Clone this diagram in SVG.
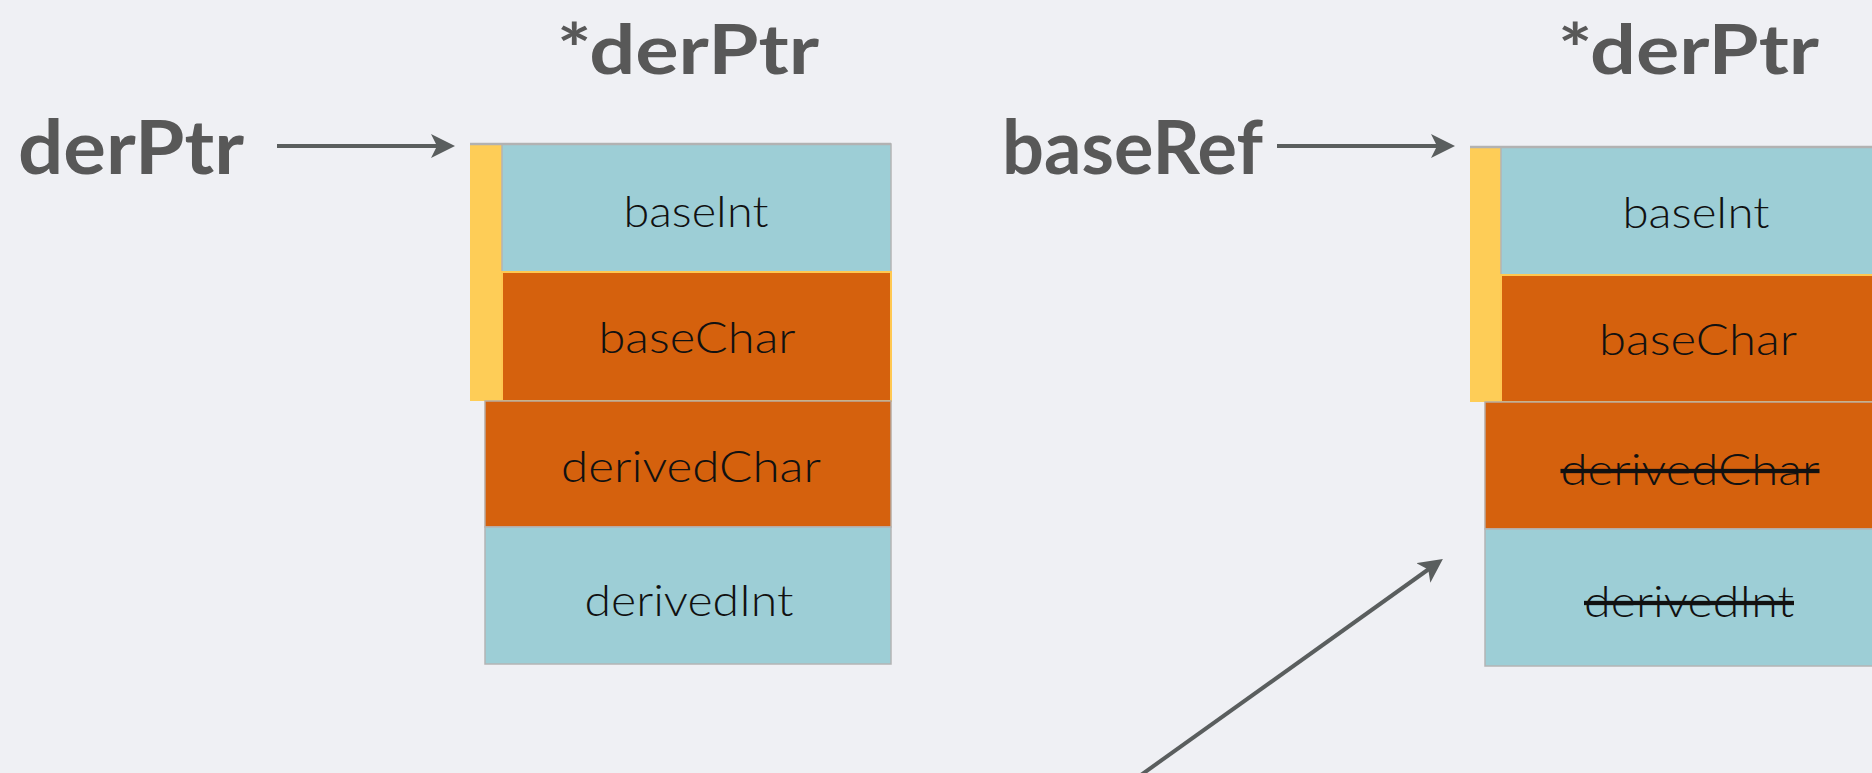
<svg xmlns="http://www.w3.org/2000/svg" width="1872" height="773" viewBox="0 0 1872 773">
<style>
.bg{fill:#eff0f4}
.lbl{font-family:Lato,"Liberation Sans",sans-serif;font-weight:700;fill:#585858}
.big{font-size:75px}
.ttl{font-size:68px}
.cell{font-family:Lato,"Liberation Sans",sans-serif;font-weight:300;font-size:43px;fill:#111;text-anchor:middle}
.strike{text-decoration:line-through}
.blue{fill:#9dced6;stroke:#b4b4b4;stroke-width:1.5}
.orU{fill:#d5610d;stroke:#ffc851;stroke-width:2}
.orL{fill:#d5610d;stroke:#b8aaa0;stroke-width:1.5}
.yel{fill:#fecd57}
.top{stroke:#b2b2b2;stroke-width:2.5}
.conn{stroke:#5a5e5e;stroke-width:4;fill:none}
</style>
<defs>
<marker id="ah" viewBox="0 0 24 24" refX="18" refY="12" markerWidth="24" markerHeight="24" markerUnits="userSpaceOnUse" orient="auto">
<path d="M0,0 L24,12 L0,24 L6,12 Z" fill="#5a5e5e"/>
</marker>
</defs>
<rect class="bg" x="0" y="0" width="1872" height="773"/>

<g id="label-derPtr"><text class="lbl big" x="18" y="174" textLength="226" lengthAdjust="spacingAndGlyphs">derPtr</text></g>
<g id="title-left"><text class="lbl ttl" x="557" y="74" textLength="262" lengthAdjust="spacingAndGlyphs">*derPtr</text></g>
<g id="label-baseRef"><text class="lbl big" x="1002" y="174" textLength="261" lengthAdjust="spacingAndGlyphs">baseRef</text></g>
<g id="title-right"><text class="lbl ttl" x="1558" y="74" textLength="261" lengthAdjust="spacingAndGlyphs">*derPtr</text></g>

<g id="obj-left">
<rect class="yel" x="470" y="144" width="32" height="257"/>
<rect class="blue" x="502" y="144" width="389" height="128"/>
<rect class="orU" x="502" y="272" width="389" height="129"/>
<rect class="orL" x="485" y="401" width="406" height="126"/>
<rect class="blue" x="485" y="527" width="406" height="137"/>
<line class="top" x1="470" y1="144" x2="891" y2="144"/>
<text class="cell" x="696" y="227" textLength="145" lengthAdjust="spacingAndGlyphs">baseInt</text>
<text class="cell" x="697" y="353" textLength="197" lengthAdjust="spacingAndGlyphs">baseChar</text>
<text class="cell" x="691" y="482" textLength="260" lengthAdjust="spacingAndGlyphs">derivedChar</text>
<text class="cell" x="689" y="616" textLength="209" lengthAdjust="spacingAndGlyphs">derivedInt</text>
</g>

<g id="obj-right">
<rect class="yel" x="1470" y="147" width="31" height="255"/>
<rect class="blue" x="1501" y="147" width="395" height="128"/>
<rect class="orU" x="1501" y="275" width="395" height="127"/>
<rect class="orL" x="1485" y="402" width="410" height="127"/>
<rect class="blue" x="1485" y="529" width="410" height="137"/>
<line class="top" x1="1470" y1="147" x2="1872" y2="147"/>
<text class="cell" x="1696" y="228" textLength="147" lengthAdjust="spacingAndGlyphs">baseInt</text>
<text class="cell" x="1698" y="355" textLength="198" lengthAdjust="spacingAndGlyphs">baseChar</text>
<text class="cell strike" x="1690" y="485" textLength="259" lengthAdjust="spacingAndGlyphs">derivedChar</text>
<text class="cell strike" x="1689" y="617" textLength="210" lengthAdjust="spacingAndGlyphs">derivedInt</text>
</g>

<g id="connectors">
<line class="conn" x1="277" y1="146" x2="449" y2="146" marker-end="url(#ah)"/>
<line class="conn" x1="1277" y1="146" x2="1449" y2="146" marker-end="url(#ah)"/>
<line class="conn" x1="1120" y1="790" x2="1438" y2="562.5" marker-end="url(#ah)"/>
</g>
</svg>
